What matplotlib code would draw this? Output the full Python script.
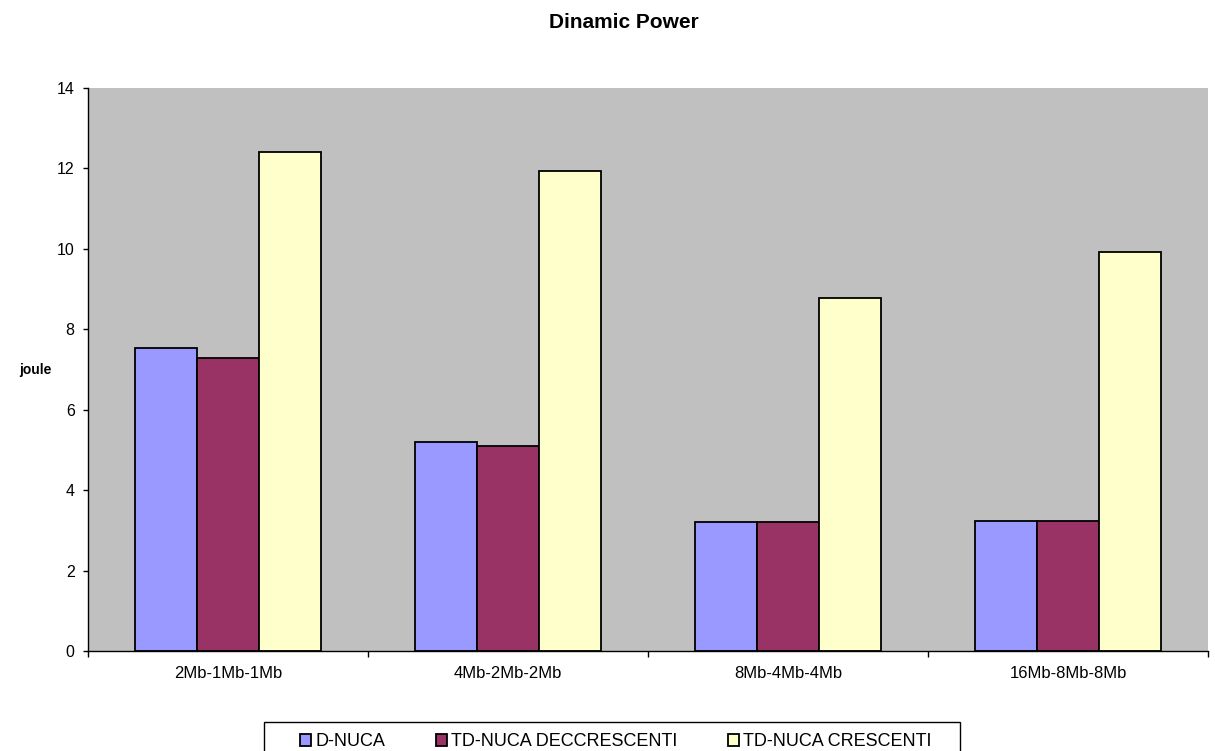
import matplotlib
matplotlib.use("Agg")
import matplotlib.pyplot as plt
from matplotlib.patches import Rectangle
import numpy as np

plt.rcParams['font.family'] = ['Liberation Sans', 'DejaVu Sans']

categories = ["2Mb-1Mb-1Mb", "4Mb-2Mb-2Mb", "8Mb-4Mb-4Mb", "16Mb-8Mb-8Mb"]
series_names = ["D-NUCA", "TD-NUCA DECCRESCENTI", "TD-NUCA CRESCENTI"]
d_nuca = [7.53, 5.19, 3.22, 3.24]
td_nuca_dec = [7.29, 5.11, 3.22, 3.24]
td_nuca_cres = [12.40, 11.94, 8.78, 9.93]
colors = ["#9999FF", "#993366", "#FFFFCC"]

W, H = 1215, 751
fig = plt.figure(figsize=(W / 100, H / 100), dpi=100)
ax = fig.add_axes([88 / W, 1 - 651 / H, 1120 / W, 563 / H])
ax.set_facecolor("#C0C0C0")

x = np.arange(len(categories))
w = 0.221
for i, (vals, name, c) in enumerate(zip([d_nuca, td_nuca_dec, td_nuca_cres], series_names, colors)):
    ax.bar(x + (i - 1) * w, vals, width=w, color=c, edgecolor="black", linewidth=1.3, label=name)

ax.set_xlim(-0.5, len(categories) - 0.5)
ax.set_ylim(0, 14)
ax.set_yticks(np.arange(0, 15, 2))
ax.set_xticks(x)
ax.set_xticklabels(categories, fontsize=12)
ax.set_xticks(np.arange(-0.5, len(categories), 1), minor=True)
ax.tick_params(axis='x', which='major', length=0, pad=10.5)
ax.tick_params(axis='x', which='minor', length=4.3, direction='out', width=1)
ax.tick_params(axis='y', length=3.6, direction='out', width=1, labelsize=11.5, pad=6)

for s in ['top', 'right']:
    ax.spines[s].set_visible(False)
for s in ['left', 'bottom']:
    ax.spines[s].set_linewidth(1)

fig.text(624 / W, 1 - 28 / H, "Dinamic Power", ha='center', va='baseline', fontsize=15, fontweight='bold')
fig.text(52 / W, 1 - 374 / H, "joule", ha='right', va='baseline', fontsize=10, fontweight='bold')

# legend frame (its lower edge runs past the bottom of the figure)
fig.add_artist(Rectangle((264 / W, -0.05), (960 - 264) / W, 0.05 + 1 - 722 / H,
                         transform=fig.transFigure, facecolor='white', edgecolor='black',
                         linewidth=1, zorder=1))
leg = fig.legend(loc='center', bbox_to_anchor=(616 / W, 1 - 742 / H), ncol=3,
                 fontsize=13, frameon=False,
                 handlelength=0.6, handleheight=0.6, columnspacing=2.8, handletextpad=0.25,
                 borderpad=0, borderaxespad=0)
leg.set_zorder(2)

fig.savefig("out.png", dpi=100)
